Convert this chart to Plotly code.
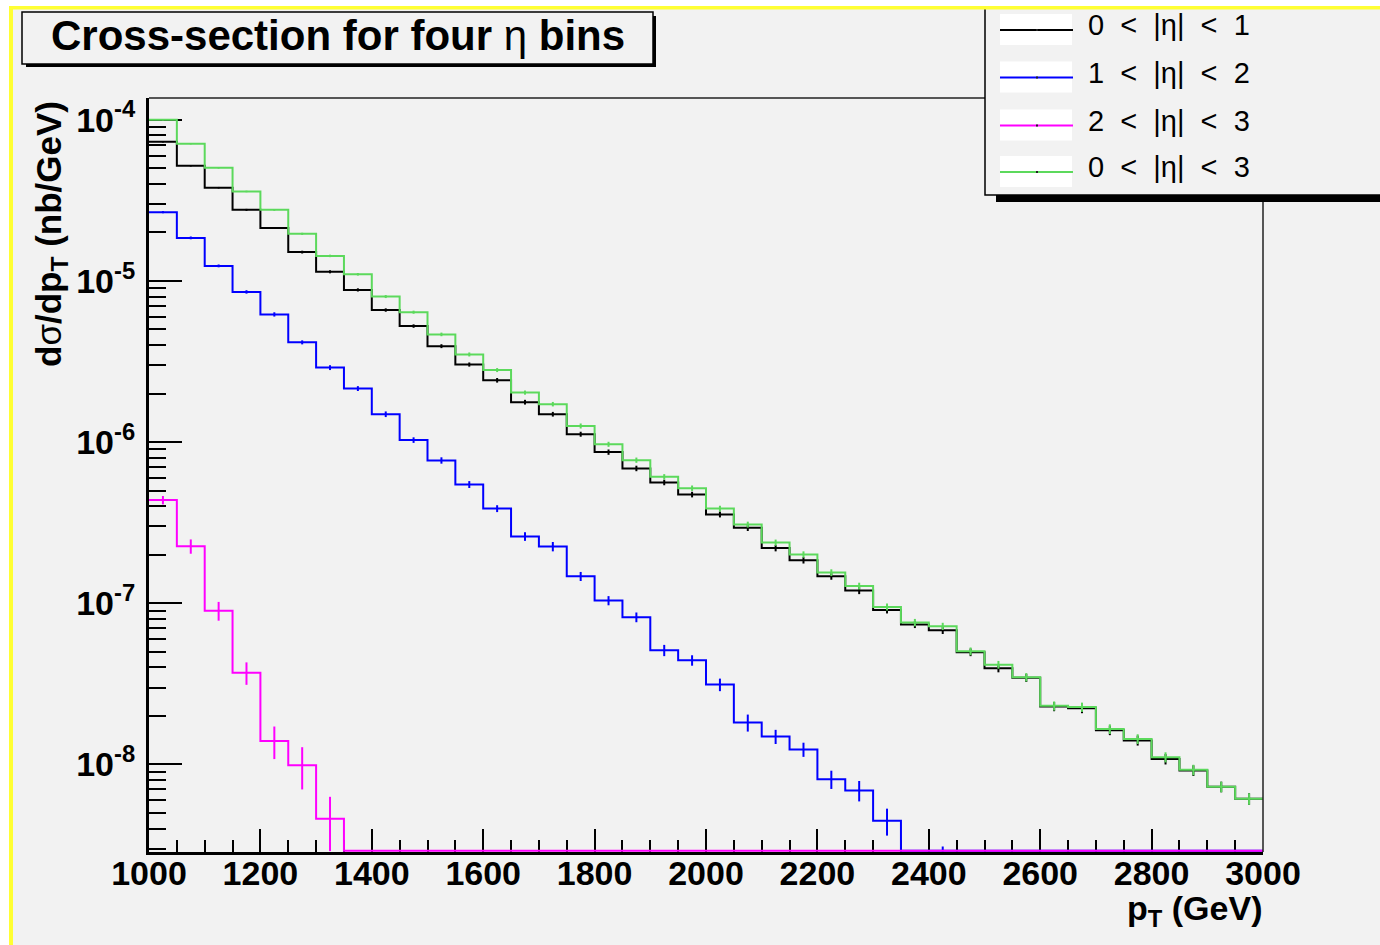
import numpy as np
import plotly.graph_objects as go

# ---- binning: 40 bins of 50 GeV from 1000 to 3000 GeV ----
pt_edges = [1000 + 50 * i for i in range(41)]

# ---- dsigma/dpT (nb/GeV) per bin ----
eta_0_1 = [7.3e-5, 5.18e-5, 3.79e-5, 2.76e-5, 2.13e-5, 1.51e-5, 1.14e-5, 8.8e-6, 6.6e-6, 5.25e-6,
           3.94e-6, 3.03e-6, 2.42e-6, 1.77e-6, 1.49e-6, 1.12e-6, 8.67e-7, 6.87e-7, 5.62e-7, 4.73e-7,
           3.56e-7, 2.94e-7, 2.2e-7, 1.85e-7, 1.47e-7, 1.2e-7, 9.1e-8, 7.4e-8, 6.8e-8, 4.97e-8,
           3.95e-8, 3.45e-8, 2.29e-8, 2.23e-8, 1.63e-8, 1.41e-8, 1.08e-8, 9.18e-9, 7.27e-9, 6.12e-9]

eta_1_2 = [2.67e-5, 1.85e-5, 1.24e-5, 8.55e-6, 6.2e-6, 4.16e-6, 2.9e-6, 2.15e-6, 1.49e-6, 1.03e-6,
           7.7e-7, 5.46e-7, 3.87e-7, 2.6e-7, 2.25e-7, 1.47e-7, 1.04e-7, 8.2e-8, 5.11e-8, 4.43e-8,
           3.13e-8, 1.82e-8, 1.49e-8, 1.24e-8, 8.1e-9, 6.9e-9, 4.47e-9, 0.0, 1.5e-9, 0.0,
           0.0, 0.0, 0.0, 0.0, 0.0, 0.0, 0.0, 0.0, 0.0, 0.0]

eta_2_3 = [4.37e-7, 2.26e-7, 9.0e-8, 3.71e-8, 1.40e-8, 9.9e-9, 4.6e-9, 0.0, 0.0, 0.0,
           0.0, 0.0, 0.0, 0.0, 0.0, 0.0, 0.0, 0.0, 0.0, 0.0,
           0.0, 0.0, 0.0, 0.0, 0.0, 0.0, 0.0, 0.0, 0.0, 0.0,
           0.0, 0.0, 0.0, 0.0, 0.0, 0.0, 0.0, 0.0, 0.0, 0.0]

eta_0_3 = [1.00e-4, 7.1e-5, 5.03e-5, 3.59e-5, 2.76e-5, 1.96e-5, 1.43e-5, 1.10e-5, 8.0e-6, 6.4e-6,
           4.66e-6, 3.5e-6, 2.8e-6, 2.03e-6, 1.72e-6, 1.26e-6, 9.7e-7, 7.73e-7, 6.09e-7, 5.18e-7,
           3.87e-7, 3.08e-7, 2.38e-7, 2.01e-7, 1.55e-7, 1.28e-7, 9.5e-8, 7.6e-8, 7.2e-8, 5.04e-8,
           4.16e-8, 3.48e-8, 2.31e-8, 2.27e-8, 1.66e-8, 1.44e-8, 1.11e-8, 9.26e-9, 7.27e-9, 6.12e-9]

# ---- statistical uncertainties (nb/GeV) ----
err_0_1 = [0.7e-6, 0.5e-6, 0.4e-6, 0.4e-6, 0.3e-6, 0.3e-6, 0.25e-6, 0.2e-6, 0.16e-6, 0.13e-6,
           1.1e-7, 0.9e-7, 0.8e-7, 0.6e-7, 0.5e-7, 0.4e-7, 3.3e-8, 2.7e-8, 2.2e-8, 1.9e-8,
           1.5e-8, 1.3e-8, 1.0e-8, 0.85e-8, 0.7e-8, 0.6e-8, 4.5e-9, 3.8e-9, 3.5e-9, 2.7e-9,
           2.2e-9, 2.0e-9, 1.5e-9, 1.5e-9, 1.1e-9, 1.0e-9, 0.8e-9, 0.7e-9, 0.55e-9, 0.5e-9]

err_1_2 = [0.4e-6, 0.37e-6, 0.25e-6, 0.21e-6, 0.19e-6, 0.12e-6, 1.0e-7, 0.75e-7, 0.6e-7, 0.41e-7,
           3.5e-8, 2.7e-8, 1.9e-8, 1.6e-8, 1.5e-8, 0.95e-8, 0.68e-8, 0.57e-8, 4.1e-9, 3.3e-9,
           2.8e-9, 2.2e-9, 1.5e-9, 1.25e-9, 1.05e-9, 1.0e-9, 0.85e-9, 0.0, 1.6e-9, 0.0,
           0.0, 0.0, 0.0, 0.0, 0.0, 0.0, 0.0, 0.0, 0.0, 0.0]

err_2_3 = [2.6e-8, 2.3e-8, 1.2e-8, 5.9e-9, 3.2e-9, 2.9e-9, 1.7e-9, 0.0, 0.0, 0.0,
           0.0, 0.0, 0.0, 0.0, 0.0, 0.0, 0.0, 0.0, 0.0, 0.0,
           0.0, 0.0, 0.0, 0.0, 0.0, 0.0, 0.0, 0.0, 0.0, 0.0,
           0.0, 0.0, 0.0, 0.0, 0.0, 0.0, 0.0, 0.0, 0.0, 0.0]

err_0_3 = [0.8e-6, 0.6e-6, 0.45e-6, 0.4e-6, 0.35e-6, 0.3e-6, 0.25e-6, 0.2e-6, 0.17e-6, 0.14e-6,
           1.2e-7, 1.0e-7, 0.8e-7, 0.6e-7, 0.55e-7, 0.45e-7, 3.5e-8, 2.9e-8, 2.4e-8, 2.0e-8,
           1.6e-8, 1.3e-8, 1.05e-8, 0.9e-8, 0.75e-8, 0.62e-8, 4.7e-9, 4.0e-9, 3.7e-9, 2.8e-9,
           2.3e-9, 2.1e-9, 1.5e-9, 1.5e-9, 1.15e-9, 1.0e-9, 0.8e-9, 0.7e-9, 0.55e-9, 0.5e-9]

SP = "&nbsp; "
series = [
    (f"0{SP}&lt;{SP}|η|{SP}&lt;{SP}1", eta_0_1, err_0_1, "#000000"),
    (f"1{SP}&lt;{SP}|η|{SP}&lt;{SP}2", eta_1_2, err_1_2, "#0000ff"),
    (f"2{SP}&lt;{SP}|η|{SP}&lt;{SP}3", eta_2_3, err_2_3, "#ff00ff"),
    (f"0{SP}&lt;{SP}|η|{SP}&lt;{SP}3", eta_0_3, err_0_3, "#5cd95c"),
]

# axis ranges (log10 for y)
x_range = [1000, 3000]
y_range = [-8.543, -3.865]
# empty bins are drawn just above the lower frame edge
y_floor = 10 ** (y_range[0] + 0.007)

W, H = 1380, 945
ML, MR, MT, MB = 149, 117, 98, 93
PW, PH = W - ML - MR, H - MT - MB
FONT = "Liberation Sans, Arial, sans-serif"


def px(xp):
    return (xp - ML) / PW


def py(yp):
    return (H - MB - yp) / PH


fig = go.Figure()

edges = np.array(pt_edges, dtype=float)
centers = 0.5 * (edges[:-1] + edges[1:])

for name, vals, errs, col in series:
    v = np.array(vals, dtype=float)
    e = np.array(errs, dtype=float)
    v_draw = np.maximum(v, y_floor)
    fig.add_trace(go.Scatter(
        x=edges, y=np.append(v_draw, v_draw[-1]),
        mode="lines", line=dict(color=col, width=2, shape="hv"),
        hoverinfo="skip", showlegend=False,
    ))
    mask = v > 0
    fig.add_trace(go.Scatter(
        x=centers[mask], y=v[mask], mode="markers",
        marker=dict(size=1, color=col),
        error_y=dict(type="data", array=e[mask], width=0, thickness=2, color=col),
        hoverinfo="skip", showlegend=False, cliponaxis=True,
    ))

frame_shapes = []
edge_shapes = []
annotations = []

# page edges: white margin strips and yellow border lines
edge_shapes += [
    dict(type="rect", xref="paper", yref="paper", x0=px(-5), x1=px(W + 5), y0=py(6), y1=py(-5),
         fillcolor="white", line=dict(width=0), layer="above"),
    dict(type="rect", xref="paper", yref="paper", x0=px(-5), x1=px(9), y0=py(H + 5), y1=py(-5),
         fillcolor="white", line=dict(width=0), layer="above"),
    dict(type="rect", xref="paper", yref="paper", x0=px(9), x1=px(W + 5), y0=py(9.5), y1=py(6),
         fillcolor="#ffff33", line=dict(width=0), layer="above"),
    dict(type="rect", xref="paper", yref="paper", x0=px(9), x1=px(13), y0=py(H + 5), y1=py(6),
         fillcolor="#ffff33", line=dict(width=0), layer="above"),
]

# thin top/right frame of the pad
frame_shapes += [
    dict(type="line", xref="paper", yref="paper", x0=0, x1=1, y0=1, y1=1,
         line=dict(color="#222222", width=1.5), layer="above"),
    dict(type="line", xref="paper", yref="paper", x0=1, x1=1, y0=0, y1=1,
         line=dict(color="#222222", width=1.5), layer="above"),
]

# title pave with shadow
tb = dict(x0=22, x1=653, y0=12, y1=64)
frame_shapes += [
    dict(type="rect", xref="paper", yref="paper", x0=px(tb["x0"] + 4), x1=px(tb["x1"] + 3),
         y0=py(tb["y1"] + 3), y1=py(tb["y0"] + 4), fillcolor="black", line=dict(width=0), layer="above"),
    dict(type="rect", xref="paper", yref="paper", x0=px(tb["x0"]), x1=px(tb["x1"]),
         y0=py(tb["y1"]), y1=py(tb["y0"]), fillcolor="#f2f2f2",
         line=dict(color="black", width=1.5), layer="above"),
]
annotations.append(dict(
    xref="paper", yref="paper", x=px(338), y=py(35), xanchor="center", yanchor="middle",
    text="<b>Cross-section for four</b> η <b>bins</b>", showarrow=False,
    font=dict(family=FONT, size=42, color="black"),
))

# legend pave with shadow
lb = dict(x0=985, x1=W + 20, y0=-20, y1=195)
frame_shapes += [
    dict(type="rect", xref="paper", yref="paper", x0=px(lb["x0"] + 11), x1=px(lb["x1"]),
         y0=py(lb["y1"] + 7), y1=py(lb["y1"] - 2), fillcolor="black", line=dict(width=0), layer="above"),
    dict(type="rect", xref="paper", yref="paper", x0=px(lb["x0"]), x1=px(lb["x1"]),
         y0=py(lb["y1"]), y1=py(lb["y0"]), fillcolor="#f2f2f2",
         line=dict(color="black", width=1.5), layer="above"),
]
leg_line_y = [30, 77.5, 125.5, 172]
for (name, vals, errs, col), ly in zip(series, leg_line_y):
    frame_shapes.append(dict(type="rect", xref="paper", yref="paper", x0=px(1000), x1=px(1072),
                             y0=py(ly + 15), y1=py(ly - 16), fillcolor="white", line=dict(width=0),
                             layer="above"))
    frame_shapes.append(dict(type="line", xref="paper", yref="paper", x0=px(1000), x1=px(1073),
                             y0=py(ly), y1=py(ly), line=dict(color=col, width=2), layer="above"))
    frame_shapes.append(dict(type="rect", xref="paper", yref="paper", x0=px(1036), x1=px(1038),
                             y0=py(ly + 1), y1=py(ly - 1), fillcolor="#222222", line=dict(width=0),
                             layer="above"))
    annotations.append(dict(
        xref="paper", yref="paper", x=px(1086), y=py(ly - 5), xanchor="left", yanchor="middle",
        text=name, showarrow=False,
        font=dict(family=FONT, size=29, color="black"),
    ))

# axis titles (ROOT style: aligned to the axis end)
annotations.append(dict(
    xref="paper", yref="paper", x=px(51), y=py(234), xanchor="center", yanchor="middle",
    textangle=-90, showarrow=False,
    text="<b>d</b>σ<b>/dp<sub>T</sub> (nb/GeV)</b>",
    font=dict(family=FONT, size=35, color="black"),
))
annotations.append(dict(
    xref="paper", yref="paper", x=px(1264), y=py(887), xanchor="right", yanchor="top",
    showarrow=False, text="<b>p<sub>T</sub> (GeV)</b>",
    font=dict(family=FONT, size=34, color="black"),
))

y_tick_vals = [1e-8, 1e-7, 1e-6, 1e-5, 1e-4]
y_tick_text = ["10<sup>-8</sup>", "10<sup>-7</sup>", "10<sup>-6</sup>", "10<sup>-5</sup>", "10<sup>-4</sup>"]
x_tick_vals = [1000, 1200, 1400, 1600, 1800, 2000, 2200, 2400, 2600, 2800, 3000]

fig.update_layout(
    width=W, height=H,
    margin=dict(l=ML, r=MR, t=MT, b=MB, pad=0),
    paper_bgcolor="#f2f2f2", plot_bgcolor="#f2f2f2",
    showlegend=False,
    shapes=frame_shapes + edge_shapes, annotations=annotations,
    xaxis=dict(
        range=x_range, showgrid=False, zeroline=False, layer="below traces",
        showline=True, linecolor="black", linewidth=3, mirror=False,
        ticks="inside", ticklen=23, tickwidth=2, tickcolor="black",
        tickvals=x_tick_vals, ticktext=[str(v) for v in x_tick_vals],
        tickfont=dict(family=FONT, size=34, color="black", weight="bold"),
        minor=dict(ticks="inside", ticklen=12, tickwidth=2, tickcolor="black", dtick=50, showgrid=False),
        ticklabelstandoff=-11,
    ),
    yaxis=dict(
        type="log", range=y_range, showgrid=False, zeroline=False, layer="below traces",
        showline=True, linecolor="black", linewidth=3, mirror=False,
        ticks="inside", ticklen=33, tickwidth=2, tickcolor="black",
        tickvals=y_tick_vals, ticktext=y_tick_text,
        tickfont=dict(family=FONT, size=34, color="black", weight="bold"),
        minor=dict(ticks="inside", ticklen=17, tickwidth=2, tickcolor="black", dtick="D1", showgrid=False),
        ticklabelstandoff=4,
    ),
)

fig.write_html("out.html")
